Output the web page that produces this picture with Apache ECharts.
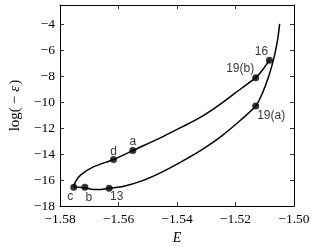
<!DOCTYPE html>
<html>
<head>
<meta charset="utf-8">
<script src="https://cdn.jsdelivr.net/npm/echarts@6/dist/echarts.min.js"></script>
<style>
html,body{margin:0;padding:0;background:#fff;}
#c{width:313px;height:250px;}
</style>
</head>
<body>
<div id="c"></div>
<script>
// ---- data ----
var lowerE   = [-1.5753, -1.5735, -1.5715, -1.5686, -1.5660, -1.5632, -1.5585, -1.5518, -1.5450, -1.5383, -1.5316, -1.5249, -1.5182, -1.5131, -1.5109, -1.5086, -1.5067, -1.5056, -1.5049];
var lowerLog = [-16.54, -16.55, -16.60, -16.72, -16.72, -16.62, -16.49, -16.04, -15.36, -14.55, -13.66, -12.62, -11.36, -10.29, -9.35, -7.98, -6.42, -5.16, -3.95];
var upperE   = [-1.5753, -1.5747, -1.5730, -1.5686, -1.5617, -1.5551, -1.5450, -1.5383, -1.5316, -1.5260, -1.5204, -1.5131, -1.5109, -1.5084];
var upperLog = [-16.54, -16.11, -15.61, -14.98, -14.41, -13.72, -12.66, -11.90, -11.10, -10.27, -9.33, -8.10, -7.55, -6.75];
var markerNames = ['c', 'b', '13', 'd', 'a', '19(b)', '16', '19(a)'];
var markerE     = [-1.5753, -1.5715, -1.5632, -1.5617, -1.5551, -1.5131, -1.5084, -1.5131];
var markerLog   = [-16.54, -16.54, -16.62, -14.41, -13.72, -8.10, -6.75, -10.29];
var xTicks = [-1.58, -1.56, -1.54, -1.52, -1.50];
var yTicks = [-18, -16, -14, -12, -10, -8, -6, -4];

// ---- styling ----
var labelOffsets = {
  'c': [-3.5, 9.5], 'b': [4, 11], '13': [7.5, 8.5], 'd': [0, -8], 'a': [0, -8.5],
  '19(b)': [-15.5, -8.5], '16': [-8, -8], '19(a)': [15.5, 9.5]
};
function pairs(xs, ys) { return xs.map(function (x, i) { return [x, ys[i]]; }); }
function fmt(v) { return (v < 0 ? '\u2212' : '') + Math.abs(v).toFixed(2); }
function fmtY(v) { return (v < 0 ? '\u2212' : '') + Math.abs(v); }

var markerData = markerNames.map(function (n, i) {
  return {
    value: [markerE[i], markerLog[i]],
    name: n,
    label: { show: true, formatter: n, position: 'inside', offset: labelOffsets[n] }
  };
});

var serif = '"Liberation Serif", "DejaVu Serif", serif';
var axisCommon = {
  type: 'value',
  axisLine: { show: true, onZero: false, lineStyle: { color: '#000', width: 1 } },
  axisTick: { show: true, inside: true, length: 4, lineStyle: { color: '#000', width: 0.8 } },
  splitLine: { show: false }
};

var chart = echarts.init(document.getElementById('c'), null, { renderer: 'canvas' });
chart.setOption({
  animation: false,
  backgroundColor: '#fff',
  grid: { left: 56, right: 19, top: 5, bottom: 40, containLabel: false },
  xAxis: [
    Object.assign({}, axisCommon, {
      min: xTicks[0], max: xTicks[xTicks.length - 1], interval: 0.02, position: 'bottom',
      name: 'E', nameLocation: 'middle', nameGap: 21,
      nameTextStyle: { fontFamily: serif, fontStyle: 'italic', fontSize: 14, color: '#000' },
      axisLabel: { show: true, formatter: fmt, fontFamily: serif, fontSize: 13.5, color: '#000', margin: 6 }
    }),
    Object.assign({}, axisCommon, {
      min: xTicks[0], max: xTicks[xTicks.length - 1], interval: 0.02, position: 'top',
      axisLabel: { show: false }
    })
  ],
  yAxis: [
    Object.assign({}, axisCommon, {
      min: yTicks[0], max: -2.5, interval: 2, position: 'left',
      name: '{r|log(}{m|\u2212}{i|\u03b5}{r|)}', nameLocation: 'middle', nameGap: 37, nameRotate: 90,
      nameTextStyle: {
        rich: {
          r: { fontFamily: serif, fontSize: 15, color: '#000' },
          m: { fontFamily: serif, fontSize: 15, color: '#000', padding: [0, 4, 0, 3] },
          i: { fontFamily: serif, fontSize: 15, fontStyle: 'italic', color: '#000', padding: [0, 1, 0, 0] }
        }
      },
      axisLabel: { show: true, formatter: fmtY, fontFamily: serif, fontSize: 13.5, color: '#000', margin: 5, showMaxLabel: false }
    }),
    Object.assign({}, axisCommon, {
      min: yTicks[0], max: -2.5, interval: 2, position: 'right',
      axisLabel: { show: false }
    })
  ],
  series: [
    {
      type: 'line', data: pairs(lowerE, lowerLog), smooth: 0.3,
      showSymbol: false, lineStyle: { color: '#000', width: 1.5 }, z: 2
    },
    {
      type: 'line', data: pairs(upperE, upperLog), smooth: 0.3,
      showSymbol: false, lineStyle: { color: '#000', width: 1.5 }, z: 2
    },
    {
      type: 'scatter', data: markerData, symbol: 'circle', symbolSize: 7,
      itemStyle: { color: '#000' }, z: 3,
      label: { fontFamily: '"Liberation Sans", Arial, sans-serif', fontSize: 12, color: '#000', align: 'center', verticalAlign: 'middle' }
    }
  ]
});
</script>
</body>
</html>
